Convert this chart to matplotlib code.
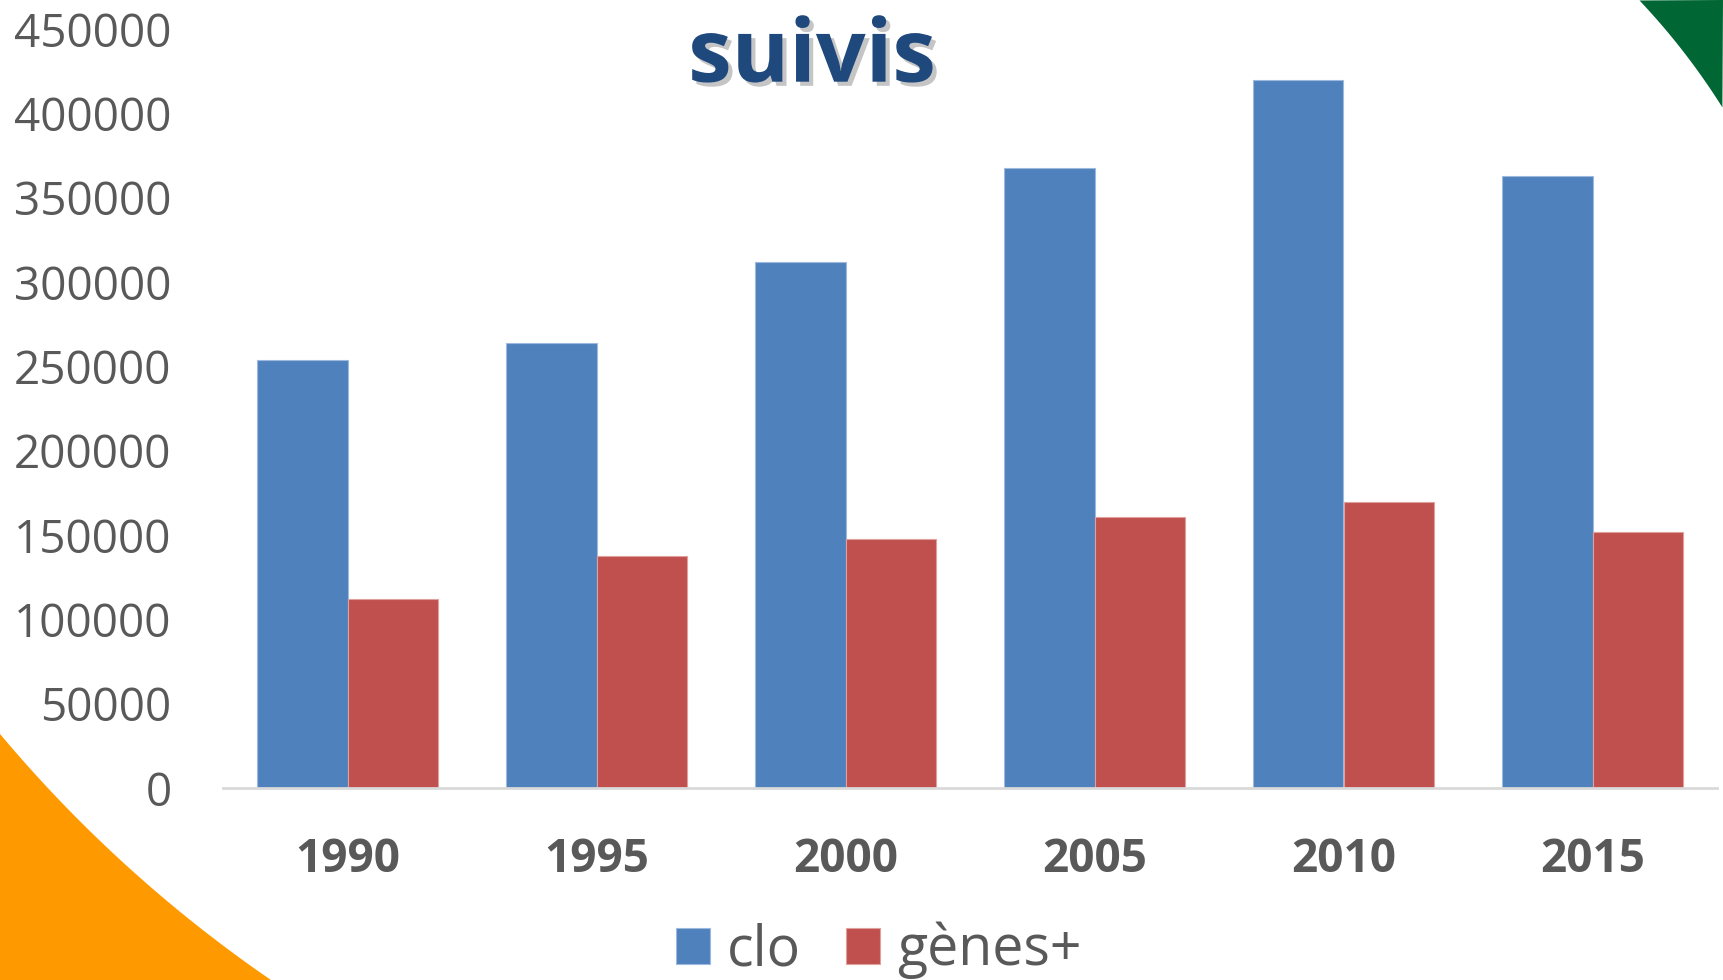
import numpy as np
import matplotlib
matplotlib.use("Agg")
import matplotlib.pyplot as plt
import matplotlib.patheffects as pe
from matplotlib.patches import Polygon

# ---- data ----
years = ["1990", "1995", "2000", "2005", "2010", "2015"]
clo = [254000, 264000, 312000, 368000, 420000, 363000]
genes = [112500, 137500, 148000, 161000, 170000, 152000]
series_names = ["clo", "gènes+"]
title = "suivis"
yticks = [0, 50000, 100000, 150000, 200000, 250000, 300000, 350000, 400000, 450000]

W, H = 1723, 980
plt.rcParams['font.family'] = ['Open Sans', 'DejaVu Sans']
fig = plt.figure(figsize=(W / 100, H / 100), dpi=100)
fig.patch.set_facecolor("white")

# ---- decorative corner shapes (figure pixel space -> figure fraction) ----
def arc_poly(cx, cy, r, p_start, p_end, corner, color):
    a0 = np.arctan2(p_start[1] - cy, p_start[0] - cx)
    a1 = np.arctan2(p_end[1] - cy, p_end[0] - cx)
    t = np.linspace(a0, a1, 200)
    xs = cx + r * np.cos(t)
    ys = cy + r * np.sin(t)
    pts = list(zip(xs, ys)) + [corner]
    pts = [(x / W, 1 - y / H) for x, y in pts]
    fig.patches.append(Polygon(pts, closed=True, transform=fig.transFigure,
                               facecolor=color, edgecolor="none", zorder=0))

arc_poly(1038, -137, 1355, (0, 732), (272, 980), (0, 980), "#FF9900")
arc_poly(1139, 474, 689, (1640, 0), (1723, 107), (1723, 0), "#006633")

# ---- axes ----
ax = fig.add_axes([223 / W, 1 - 788.3 / H, (1717 - 223) / W, (788.3 - 29.3) / H])
ax.set_facecolor("none")
x = np.arange(len(years))
bw = 0.365
ax.bar(x - bw / 2, clo, width=bw, color="#4F81BD", edgecolor="#9DB9DD",
       linewidth=0.8, label=series_names[0], zorder=2)
ax.bar(x + bw / 2, genes, width=bw, color="#C0504D", edgecolor="#E0A09E",
       linewidth=0.8, label=series_names[1], zorder=2)

ax.set_xlim(-0.5, len(years) - 0.5)
ax.set_ylim(0, 450000)
ax.set_yticks(yticks)
ax.set_yticklabels([str(v) for v in yticks], fontsize=33, color="#595959")
ax.set_xticks(x)
ax.set_xticklabels(years, fontsize=33, fontweight="bold", color="#595959")
ax.tick_params(axis="y", length=0, pad=37)
ax.tick_params(axis="x", length=0, pad=34)
for s in ["top", "right", "left"]:
    ax.spines[s].set_visible(False)
ax.spines["bottom"].set_color("#D9D9D9")
ax.spines["bottom"].set_linewidth(2)
ax.spines["bottom"].set_zorder(3)

# ---- legend ----
fig.legend(loc="center", bbox_to_anchor=(0.510, 0.030), ncol=2, frameon=False,
           fontsize=40, handlelength=0.61, handleheight=0.61, handletextpad=0.31,
           columnspacing=0.8, labelcolor="#595959")

# ---- title ----
fig.text(812 / W, 1 - 81.7 / H, title, ha="center", va="baseline",
         fontsize=63, fontweight="bold", color="#1F497D",
         path_effects=[pe.SimplePatchShadow(offset=(3, -3), shadow_rgbFace="#808080", alpha=0.45),
                       pe.Normal()])

fig.savefig("out.png", dpi=100, facecolor="white")
